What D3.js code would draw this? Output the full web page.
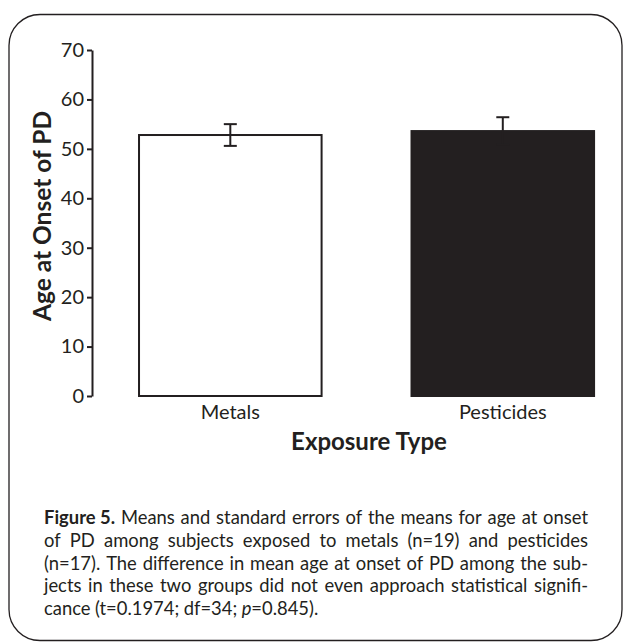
<!DOCTYPE html>
<html><head><meta charset="utf-8">
<script src="https://cdn.jsdelivr.net/npm/d3@7"></script>
<style>html,body{margin:0;padding:0;background:#fff;}svg{display:block;}</style>
</head><body>
<script>
const categories = ["Metals", "Pesticides"];
const means = [52.8, 53.6];
const stdErrors = [2.2, 2.8];
const barFills = ["#ffffff", "#231f20"];
const yTicks = [0, 10, 20, 30, 40, 50, 60, 70];
const yTitle = "Age at Onset of PD";
const xTitle = "Exposure Type";
const captionLines = [
  [[["Figure 5.", "b"]], [["Means"]], [["and"]], [["standard"]], [["errors"]], [["of"]], [["the"]], [["means"]], [["for"]], [["age"]], [["at"]], [["onset"]]],
  "of PD among subjects exposed to metals (n=19) and pesticides",
  "(n=17). The difference in mean age at onset of PD among the sub-",
  "jects in these two groups did not even approach statistical signifi-",
  [[["cance"]], [["(t=0.1974;"]], [["df=34;"]], [["p", "i"], ["=0.845)."]]]
];

const W = 632, H = 644, ink = "#231f20";
const svg = d3.select("body").append("svg").attr("width", W).attr("height", H);

// frame
svg.append("rect").attr("x", 9).attr("y", 14.5).attr("width", 613).attr("height", 626)
  .attr("rx", 31).attr("fill", "none").attr("stroke", ink).attr("stroke-width", 1.3);

const y = d3.scaleLinear().domain([0, 70]).range([396, 50]);
const x = d3.scaleBand().domain(categories).range([92.7, 640.4]).paddingInner(0.33).paddingOuter(0.17);

const fontFam = "Lato, 'Open Sans', sans-serif";

// y axis
const yAxis = svg.append("g").attr("transform", "translate(92,0)")
  .call(d3.axisLeft(y).tickValues(yTicks).tickSize(5).tickSizeOuter(0).tickPadding(3));
yAxis.select(".domain").attr("stroke", ink).attr("stroke-width", 2);
yAxis.selectAll(".tick line").attr("stroke", ink).attr("stroke-width", 2);
yAxis.selectAll(".tick text").attr("fill", ink).attr("font-family", fontFam).attr("font-size", 20);

// bars
svg.selectAll("rect.bar").data(categories).join("rect").attr("class", "bar")
  .attr("x", d => x(d)).attr("width", x.bandwidth())
  .attr("y", (d, i) => y(means[i])).attr("height", (d, i) => y(0) - y(means[i]))
  .attr("fill", (d, i) => barFills[i]).attr("stroke", ink).attr("stroke-width", 2);

// error bars
const eb = svg.selectAll("g.eb").data(categories).join("g").attr("class", "eb")
  .attr("stroke", ink).attr("stroke-width", 2);
eb.append("line").attr("x1", d => x(d) + x.bandwidth() / 2).attr("x2", d => x(d) + x.bandwidth() / 2)
  .attr("y1", (d, i) => y(means[i] + stdErrors[i])).attr("y2", (d, i) => y(means[i] - stdErrors[i]));
eb.append("line").attr("x1", d => x(d) + x.bandwidth() / 2 - 6.5).attr("x2", d => x(d) + x.bandwidth() / 2 + 6.5)
  .attr("y1", (d, i) => y(means[i] + stdErrors[i])).attr("y2", (d, i) => y(means[i] + stdErrors[i]));
eb.append("line").attr("x1", d => x(d) + x.bandwidth() / 2 - 6.5).attr("x2", d => x(d) + x.bandwidth() / 2 + 6.5)
  .attr("y1", (d, i) => y(means[i] - stdErrors[i])).attr("y2", (d, i) => y(means[i] - stdErrors[i]));

// x labels
svg.selectAll("text.xl").data(categories).join("text").attr("class", "xl")
  .attr("x", d => x(d) + x.bandwidth() / 2).attr("y", 419)
  .attr("text-anchor", "middle").attr("font-family", fontFam).attr("font-size", 20).attr("fill", ink)
  .text(d => d);

svg.append("text").attr("x", 369).attr("y", 450).attr("text-anchor", "middle")
  .attr("font-family", fontFam).attr("font-weight", "bold").attr("font-size", 24).attr("fill", ink)
  .text(xTitle);

svg.append("text").attr("transform", "translate(51,216) rotate(-90)").attr("text-anchor", "middle")
  .attr("font-family", fontFam).attr("font-weight", "bold").attr("font-size", 24.5).attr("fill", ink)
  .text(yTitle);

// caption (justified)
const capLeft = 44, capRight = 588, capTop = 524, capLead = 22.8, capSize = 18.4;
captionLines.forEach((line, li) => {
  const words = typeof line === "string" ? line.split(" ").map(w => [[w]]) : line;
  const g = svg.append("g");
  const widths = words.map(segs => {
    const t = g.append("text").attr("font-family", fontFam).attr("font-size", capSize).attr("fill", ink)
      .attr("y", capTop + li * capLead);
    segs.forEach(s => {
      const ts = t.append("tspan").text(s[0]);
      if (s[1] === "b") ts.attr("font-weight", "bold");
      if (s[1] === "i") ts.attr("font-style", "italic");
    });
    return t;
  }).map(t => ({ t, w: t.node().getComputedTextLength() }));
  const total = d3.sum(widths, d => d.w);
  const last = li === captionLines.length - 1;
  const gap = last ? capSize * 0.24 : (capRight - capLeft - total) / (widths.length - 1);
  let cx = capLeft;
  widths.forEach(d => { d.t.attr("x", cx); cx += d.w + gap; });
});
</script>
</body></html>
